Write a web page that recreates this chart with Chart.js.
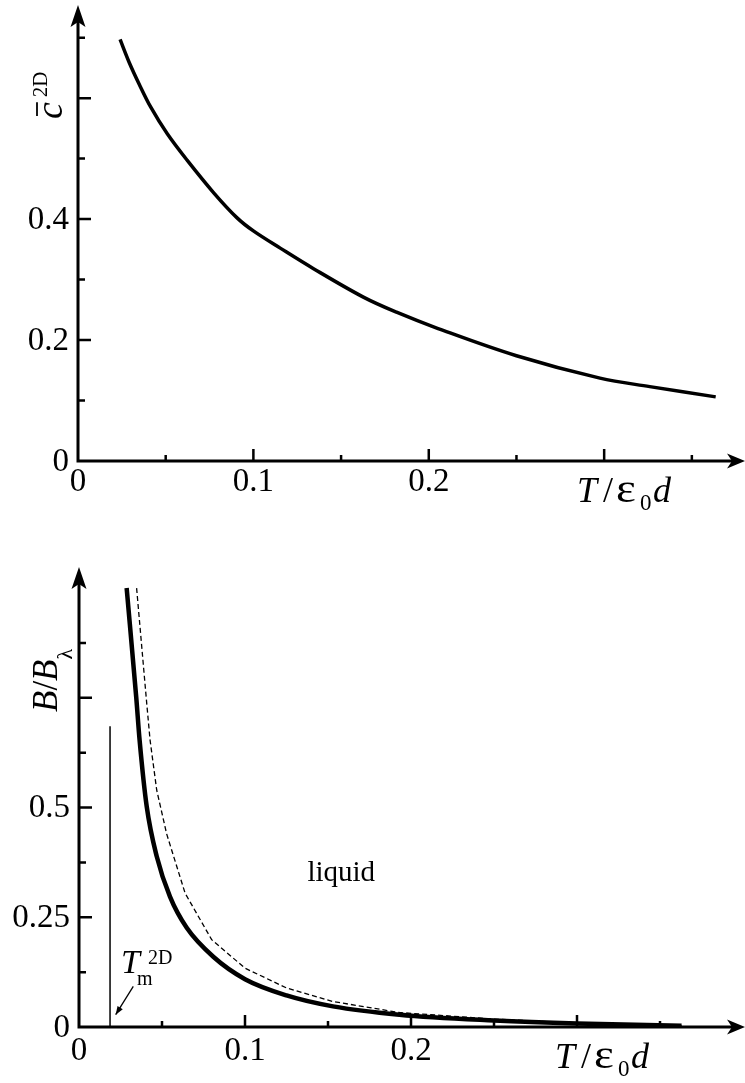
<!DOCTYPE html>
<html>
<head>
<meta charset="utf-8">
<script src="https://cdn.jsdelivr.net/npm/chart.js@4.4.0/dist/chart.umd.min.js"></script>
<style>
  html, body { margin: 0; padding: 0; background: #fff; }
  .panel { position: absolute; left: 0; width: 745px; }
  #top-panel { top: 0; height: 530px; }
  #bottom-panel { top: 540px; height: 543px; }
</style>
</head>
<body>
<div class="panel" id="top-panel"><canvas id="chart-top" width="745" height="530"></canvas></div>
<div class="panel" id="bottom-panel"><canvas id="chart-bottom" width="745" height="543"></canvas></div>
<script>
// ---- top panel: c^2D against T/eps0 d
const topT = [0.024, 0.0292, 0.0349, 0.0415, 0.0509, 0.0623, 0.0775, 0.0907, 0.1002, 0.1153, 0.1343, 0.1627, 0.1816, 0.2053, 0.25, 0.2976, 0.326, 0.3636];
const topC = [0.697, 0.659, 0.623, 0.585, 0.541, 0.497, 0.443, 0.402, 0.380, 0.352, 0.318, 0.271, 0.246, 0.219, 0.174, 0.137, 0.123, 0.106];
const topXLabels = [0, 0.1, 0.2];
const topXMajor = [0.1, 0.2, 0.3];
const topXMinor = [0.05, 0.15, 0.25, 0.35];
const topYLabels = [0, 0.2, 0.4];
const topYMajor = [0.2, 0.4, 0.6];
const topYMinor = [0.1, 0.3, 0.5, 0.7];

// ---- bottom panel: B/B_lambda against T/eps0 d
const solidT = [0.0287, 0.0345, 0.0365, 0.0408, 0.0468, 0.0548, 0.0649, 0.0809, 0.1, 0.125, 0.153, 0.193, 0.25, 0.30, 0.363];
const solidB = [1.0, 0.75, 0.654, 0.502, 0.389, 0.297, 0.226, 0.160, 0.109, 0.072, 0.047, 0.028, 0.015, 0.008, 0.003];
const dashT = [0.0347, 0.0405, 0.0428, 0.0468, 0.0528, 0.0639, 0.0799, 0.1, 0.125, 0.153, 0.193, 0.25, 0.30, 0.363];
const dashB = [1.0, 0.75, 0.654, 0.54, 0.44, 0.305, 0.199, 0.134, 0.089, 0.058, 0.033, 0.018, 0.009, 0.003];
const meltT = 0.0187;
const meltTop = 0.685;
const botXLabels = [0, 0.1, 0.2];
const botXMajor = [0.1, 0.2, 0.3];
const botXMinor = [0.05, 0.15, 0.25, 0.35];
const botYLabels = [0, 0.25, 0.5];
const botYMajor = [0.25, 0.5, 0.75];
const botYMinor = [0.125, 0.375, 0.625, 0.875];

const SERIF = '"Liberation Serif", "DejaVu Serif", serif';

function pts(xs, ys) {
  return xs.map((x, i) => ({ x: x, y: ys[i] }));
}

function fmt(v) {
  return v === 0 ? "0" : String(v);
}

// draws a row of text pieces, each with its own font and baseline shift
function drawRuns(ctx, x, y, runs) {
  ctx.textAlign = "left";
  ctx.textBaseline = "alphabetic";
  runs.forEach((r) => {
    ctx.font = r.font;
    ctx.fillText(r.text, x + (r.dx || 0), y + (r.dy || 0));
    x += ctx.measureText(r.text).width + (r.dx || 0) + (r.gap || 0);
  });
  return x;
}

function axesPlugin(cfg) {
  return {
    id: "axes-" + cfg.name,
    afterDraw(chart) {
      const ctx = chart.ctx;
      const xs = chart.scales.x;
      const ys = chart.scales.y;
      const area = chart.chartArea;
      const x0 = xs.getPixelForValue(0);
      const y0 = ys.getPixelForValue(0);
      ctx.save();
      ctx.strokeStyle = "#000";
      ctx.fillStyle = "#000";
      ctx.lineWidth = 3;
      ctx.lineCap = "butt";

      // axis lines
      ctx.beginPath();
      ctx.moveTo(x0, y0 + 1.5);
      ctx.lineTo(x0, area.top + 10);
      ctx.moveTo(x0 - 1.5, y0);
      ctx.lineTo(area.right - 8, y0);
      ctx.stroke();

      // arrow heads
      ctx.beginPath();
      ctx.moveTo(x0, area.top);
      ctx.lineTo(x0 - 7.5, area.top + 22);
      ctx.lineTo(x0, area.top + 17);
      ctx.lineTo(x0 + 7.5, area.top + 22);
      ctx.closePath();
      ctx.fill();
      ctx.beginPath();
      ctx.moveTo(area.right, y0);
      ctx.lineTo(area.right - 18, y0 - 7.5);
      ctx.lineTo(area.right - 13, y0);
      ctx.lineTo(area.right - 18, y0 + 7.5);
      ctx.closePath();
      ctx.fill();

      // inward ticks
      ctx.lineWidth = 2.5;
      ctx.beginPath();
      cfg.xMajor.forEach((v) => {
        const p = xs.getPixelForValue(v);
        ctx.moveTo(p, y0); ctx.lineTo(p, y0 - 12);
      });
      cfg.xMinor.forEach((v) => {
        const p = xs.getPixelForValue(v);
        ctx.moveTo(p, y0); ctx.lineTo(p, y0 - 6);
      });
      cfg.yMajor.forEach((v) => {
        const p = ys.getPixelForValue(v);
        ctx.moveTo(x0, p); ctx.lineTo(x0 + 13, p);
      });
      cfg.yMinor.forEach((v) => {
        const p = ys.getPixelForValue(v);
        ctx.moveTo(x0, p); ctx.lineTo(x0 + 7, p);
      });
      ctx.stroke();

      // tick labels
      ctx.font = "33px " + SERIF;
      ctx.textAlign = "center";
      ctx.textBaseline = "middle";
      cfg.xLabels.forEach((v) => {
        ctx.fillText(fmt(v), xs.getPixelForValue(v), y0 + cfg.xLabelGap);
      });
      ctx.textAlign = "right";
      cfg.yLabels.forEach((v) => {
        ctx.fillText(fmt(v), x0 - 9, ys.getPixelForValue(v) + 1);
      });

      // x title  T/eps0 d, glyphs placed like the equation-editor original
      const tx = cfg.xTitleX, ty = y0 + cfg.xTitleDrop;
      ctx.textAlign = "left";
      ctx.textBaseline = "alphabetic";
      ctx.font = "italic 36px " + SERIF;
      ctx.fillText("T", tx, ty);
      ctx.font = "36px " + SERIF;
      ctx.fillText("/", tx + 26, ty);
      ctx.save();
      ctx.translate(tx + 39, ty);
      ctx.scale(1.15, 1);
      ctx.font = "41px " + SERIF;
      ctx.fillText("\u03b5", 0, 0);
      ctx.restore();
      ctx.font = "23px " + SERIF;
      ctx.fillText("0", tx + 63, ty + 8);
      ctx.font = "italic 36px " + SERIF;
      ctx.fillText("d", tx + 76, ty);

      cfg.extra(ctx, xs, ys, x0, y0);
      ctx.restore();
    },
  };
}

function baseOptions(pad, xMax, yMax) {
  return {
    responsive: false,
    animation: false,
    layout: { padding: pad },
    plugins: { legend: { display: false }, tooltip: { enabled: false } },
    scales: {
      x: { type: "linear", min: 0, max: xMax, display: false },
      y: { type: "linear", min: 0, max: yMax, display: false },
    },
  };
}

// ---- top chart
new Chart(document.getElementById("chart-top"), {
  type: "scatter",
  data: {
    datasets: [{
      data: pts(topT, topC),
      showLine: true,
      borderColor: "#000",
      borderWidth: 3.5,
      pointRadius: 0,
      tension: 0.35,
    }],
  },
  options: baseOptions({ left: 78, right: 0, top: 5, bottom: 69 }, 0.3803, 0.754),
  plugins: [axesPlugin({
    name: "top",
    xMajor: topXMajor, xMinor: topXMinor, yMajor: topYMajor, yMinor: topYMinor,
    xLabels: topXLabels, yLabels: topYLabels,
    xLabelGap: 21, xTitleX: 577, xTitleDrop: 41,
    extra(ctx) {
      // y title: c-bar with superscript 2D, rotated
      ctx.save();
      ctx.translate(62, 119);
      ctx.rotate(-Math.PI / 2);
      const end = drawRuns(ctx, 0, 0, [
        { text: "c", font: "italic 38px " + SERIF, gap: 4 },
      ]);
      ctx.lineWidth = 1.8;
      ctx.beginPath();
      ctx.moveTo(3, -25);
      ctx.lineTo(end - 4, -25);
      ctx.stroke();
      drawRuns(ctx, end + 1, -15, [{ text: "2D", font: "21px " + SERIF }]);
      ctx.restore();
    },
  })],
});

// ---- bottom chart
new Chart(document.getElementById("chart-bottom"), {
  type: "scatter",
  data: {
    datasets: [
      {
        data: pts(solidT, solidB),
        showLine: true,
        borderColor: "#000",
        borderWidth: 4.5,
        pointRadius: 0,
        cubicInterpolationMode: "monotone",
      },
      {
        data: pts(dashT, dashB),
        showLine: true,
        borderColor: "#000",
        borderWidth: 1.3,
        borderDash: [5, 3],
        pointRadius: 0,
        tension: 0,
      },
      {
        data: pts([meltT, meltT], [0, meltTop]),
        showLine: true,
        borderColor: "#000",
        borderWidth: 1.5,
        pointRadius: 0,
      },
    ],
  },
  options: baseOptions({ left: 79, right: 0, top: 27, bottom: 56 }, 0.4012, 1.048),
  plugins: [axesPlugin({
    name: "bottom",
    xMajor: botXMajor, xMinor: botXMinor, yMajor: botYMajor, yMinor: botYMinor,
    xLabels: botXLabels, yLabels: botYLabels,
    xLabelGap: 24, xTitleX: 555, xTitleDrop: 41,
    extra(ctx, xs, ys) {
      // y title: B/B_lambda, rotated
      ctx.save();
      ctx.translate(57, 172);
      ctx.rotate(-Math.PI / 2);
      drawRuns(ctx, 0, 0, [
        { text: "B", font: "italic 35px " + SERIF },
        { text: "/", font: "35px " + SERIF },
        { text: "B", font: "italic 35px " + SERIF },
        { text: "\u03bb", font: "22px " + SERIF, dy: 15 },
      ]);
      ctx.restore();

      // "liquid"
      ctx.font = "29px " + SERIF;
      ctx.textAlign = "center";
      ctx.textBaseline = "middle";
      ctx.fillText("liquid", xs.getPixelForValue(0.158), ys.getPixelForValue(0.351));

      // T_m^2D label and its arrow
      const mx = xs.getPixelForValue(meltT);
      const by = ys.getPixelForValue(0);
      ctx.textAlign = "left";
      ctx.textBaseline = "alphabetic";
      ctx.font = "italic 34px " + SERIF;
      ctx.fillText("T", mx + 11, by - 54);
      ctx.font = "20px " + SERIF;
      ctx.fillText("m", mx + 27, by - 42);
      ctx.fillText("2D", mx + 38, by - 63);

      const ax1 = xs.getPixelForValue(0.0327), ay1 = ys.getPixelForValue(0.0925);
      const ax2 = xs.getPixelForValue(0.0221), ay2 = ys.getPixelForValue(0.028);
      ctx.lineWidth = 1.3;
      ctx.beginPath();
      ctx.moveTo(ax1, ay1);
      ctx.lineTo(ax2, ay2);
      ctx.stroke();
      const ang = Math.atan2(ay2 - ay1, ax2 - ax1);
      ctx.beginPath();
      ctx.moveTo(ax2, ay2);
      ctx.lineTo(ax2 - 9 * Math.cos(ang - 0.35), ay2 - 9 * Math.sin(ang - 0.35));
      ctx.lineTo(ax2 - 9 * Math.cos(ang + 0.35), ay2 - 9 * Math.sin(ang + 0.35));
      ctx.closePath();
      ctx.fill();
    },
  })],
});
</script>
</body>
</html>
